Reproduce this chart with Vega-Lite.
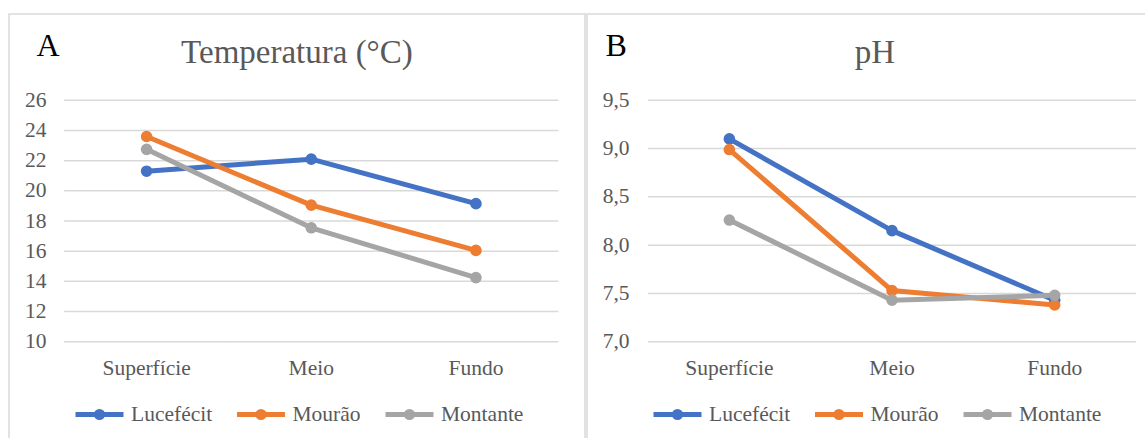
{
  "$schema": "https://vega.github.io/schema/vega-lite/v6.json",
  "background": "white",
  "padding": {"left": 8, "top": 13, "right": 0, "bottom": 0},
  "spacing": 0,
  "config": {
    "view": {"stroke": "#D9D9D9", "strokeWidth": 1.5},
    "font": "Liberation Serif",
    "axis": {"labelFont": "Liberation Serif", "titleFont": "Liberation Serif"},
    "legend": {"labelFont": "Liberation Serif"},
    "text": {"font": "Liberation Serif"}
  },
  "datasets": {
    "temp": [
      {"site": "Lucefécit", "cat": "Superfície", "value": 21.3},
      {"site": "Lucefécit", "cat": "Meio", "value": 22.1},
      {"site": "Lucefécit", "cat": "Fundo", "value": 19.15},
      {"site": "Mourão", "cat": "Superfície", "value": 23.6},
      {"site": "Mourão", "cat": "Meio", "value": 19.05},
      {"site": "Mourão", "cat": "Fundo", "value": 16.05},
      {"site": "Montante", "cat": "Superfície", "value": 22.75},
      {"site": "Montante", "cat": "Meio", "value": 17.55},
      {"site": "Montante", "cat": "Fundo", "value": 14.25}
    ],
    "ph": [
      {"site": "Lucefécit", "cat": "Superfície", "value": 9.1},
      {"site": "Lucefécit", "cat": "Meio", "value": 8.15},
      {"site": "Lucefécit", "cat": "Fundo", "value": 7.43},
      {"site": "Mourão", "cat": "Superfície", "value": 8.99},
      {"site": "Mourão", "cat": "Meio", "value": 7.53},
      {"site": "Mourão", "cat": "Fundo", "value": 7.38},
      {"site": "Montante", "cat": "Superfície", "value": 8.26},
      {"site": "Montante", "cat": "Meio", "value": 7.43},
      {"site": "Montante", "cat": "Fundo", "value": 7.48}
    ],
    "gridT": [
      {"value": 10, "cat": ["Superfície", "Meio", "Fundo"]},
      {"value": 12, "cat": ["Superfície", "Meio", "Fundo"]},
      {"value": 14, "cat": ["Superfície", "Meio", "Fundo"]},
      {"value": 16, "cat": ["Superfície", "Meio", "Fundo"]},
      {"value": 18, "cat": ["Superfície", "Meio", "Fundo"]},
      {"value": 20, "cat": ["Superfície", "Meio", "Fundo"]},
      {"value": 22, "cat": ["Superfície", "Meio", "Fundo"]},
      {"value": 24, "cat": ["Superfície", "Meio", "Fundo"]},
      {"value": 26, "cat": ["Superfície", "Meio", "Fundo"]}
    ],
    "gridP": [
      {"value": 7.0, "cat": ["Superfície", "Meio", "Fundo"]},
      {"value": 7.5, "cat": ["Superfície", "Meio", "Fundo"]},
      {"value": 8.0, "cat": ["Superfície", "Meio", "Fundo"]},
      {"value": 8.5, "cat": ["Superfície", "Meio", "Fundo"]},
      {"value": 9.0, "cat": ["Superfície", "Meio", "Fundo"]},
      {"value": 9.5, "cat": ["Superfície", "Meio", "Fundo"]}
    ],
    "titleT": [{"t": "Temperatura (°C)", "cat": "Meio", "value": 28.47}],
    "titleP": [{"t": "pH", "cat": "Meio", "value": 9.886}]
  },
  "resolve": {"legend": {"color": "independent"}},
  "hconcat": [
    {
      "width": 576,
      "height": 425,
      "encoding": {
        "x": {
          "field": "cat", "type": "nominal",
          "scale": {"type": "band", "domain": ["Superfície", "Meio", "Fundo"], "paddingInner": 0, "paddingOuter": 0.249, "align": 0.674},
          "axis": {"orient": "bottom", "offset": -97.3, "domain": false, "ticks": false, "tickSize": 0, "grid": false, "labelPadding": 32.3, "labelBaseline": "alphabetic", "labelAngle": 0, "labelFont": "Liberation Serif", "labelFontSize": 21.5, "labelColor": "#595959", "title": null}
        },
        "y": {
          "field": "value", "type": "quantitative",
          "scale": {"domain": [3.551, 31.72], "nice": false, "zero": false},
          "axis": {"orient": "left", "offset": -55.3, "values": [10, 12, 14, 16, 18, 20, 22, 24, 26], "domain": false, "ticks": false, "tickSize": 0, "grid": false, "labelPadding": 18.3, "labelBaseline": "middle", "labelFont": "Liberation Serif", "labelFontSize": 21.5, "labelColor": "#595959", "title": "A", "titleAngle": 0, "titleX": -28.3, "titleY": 41.5, "titleAlign": "left", "titleBaseline": "alphabetic", "titleFont": "Liberation Serif", "titleFontSize": 32, "titleFontWeight": "normal", "titleColor": "#000000"}
        }
      },
      "layer": [
        {
          "data": {"name": "gridT"},
          "transform": [{"flatten": ["cat"]}],
          "mark": {"type": "tick", "color": "#D9D9D9", "thickness": 1.5, "size": 165, "orient": "horizontal", "opacity": 1}
        },
        {
          "data": {"name": "titleT"},
          "mark": {"type": "text", "font": "Liberation Serif", "fontSize": 33, "color": "#595959", "baseline": "alphabetic", "align": "center", "dx": -14.3},
          "encoding": {
            "text": {"field": "t", "type": "nominal"}
          }
        },
        {
          "data": {"name": "temp"},
          "mark": {"type": "line", "strokeWidth": 5, "strokeCap": "round", "strokeJoin": "round"},
          "encoding": {
            "color": {
              "field": "site", "type": "nominal",
              "scale": {"domain": ["Lucefécit", "Mourão", "Montante"], "range": ["#4472C4", "#ED7D31", "#A5A5A5"]},
              "legend": {
                "orient": "none", "legendX": 64, "legendY": 374, "direction": "horizontal", "title": null, "gridAlign": "none",
                "symbolType": "M-1,0L1,0M0.13,0A0.13,0.13,0,1,1,-0.13,0A0.13,0.13,0,1,1,0.13,0Z",
                "symbolSize": 2304, "symbolStrokeWidth": 5,
                "labelFont": "Liberation Serif", "labelFontSize": 21.5, "labelColor": "#595959", "labelOffset": 5, "columnPadding": 13.5,
                "encode": {"symbols": {"update": {"fill": {"scale": "color", "field": "value"}, "stroke": {"scale": "color", "field": "value"}, "opacity": {"value": 1}}}}
              }
            }
          }
        },
        {
          "data": {"name": "temp"},
          "mark": {"type": "point", "filled": true, "size": 135, "opacity": 1},
          "encoding": {
            "color": {"field": "site", "type": "nominal", "legend": null}
          }
        }
      ]
    },
    {
      "width": 561,
      "height": 425,
      "encoding": {
        "x": {
          "field": "cat", "type": "nominal",
          "scale": {"type": "band", "domain": ["Superfície", "Meio", "Fundo"], "paddingInner": 0, "paddingOuter": 0.2244, "align": 0.836},
          "axis": {"orient": "bottom", "offset": -97.3, "domain": false, "ticks": false, "tickSize": 0, "grid": false, "labelPadding": 32.3, "labelBaseline": "alphabetic", "labelAngle": 0, "labelFont": "Liberation Serif", "labelFontSize": 21.5, "labelColor": "#595959", "title": null}
        },
        "y": {
          "field": "value", "type": "quantitative",
          "scale": {"domain": [5.9923, 10.3937], "nice": false, "zero": false},
          "axis": {"orient": "left", "offset": -61, "values": [7, 7.5, 8, 8.5, 9, 9.5], "labelExpr": "replace(format(datum.value, '.1f'), '.', ',')", "domain": false, "ticks": false, "tickSize": 0, "grid": false, "labelPadding": 19, "labelBaseline": "middle", "labelFont": "Liberation Serif", "labelFontSize": 21.5, "labelColor": "#595959", "title": "B", "titleAngle": 0, "titleX": -43, "titleY": 41, "titleAlign": "left", "titleBaseline": "alphabetic", "titleFont": "Liberation Serif", "titleFontSize": 32, "titleFontWeight": "normal", "titleColor": "#000000"}
        }
      },
      "layer": [
        {
          "data": {"name": "gridP"},
          "transform": [{"flatten": ["cat"]}],
          "mark": {"type": "tick", "color": "#D9D9D9", "thickness": 1.5, "size": 163, "orient": "horizontal", "opacity": 1}
        },
        {
          "data": {"name": "titleP"},
          "mark": {"type": "text", "font": "Liberation Serif", "fontSize": 33, "color": "#595959", "baseline": "alphabetic", "align": "center", "dx": -17},
          "encoding": {
            "text": {"field": "t", "type": "nominal"}
          }
        },
        {
          "data": {"name": "ph"},
          "mark": {"type": "line", "strokeWidth": 5, "strokeCap": "round", "strokeJoin": "round"},
          "encoding": {
            "color": {
              "field": "site", "type": "nominal",
              "scale": {"domain": ["Lucefécit", "Mourão", "Montante"], "range": ["#4472C4", "#ED7D31", "#A5A5A5"]},
              "legend": {
                "orient": "none", "legendX": 64, "legendY": 374, "direction": "horizontal", "title": null, "gridAlign": "none",
                "symbolType": "M-1,0L1,0M0.13,0A0.13,0.13,0,1,1,-0.13,0A0.13,0.13,0,1,1,0.13,0Z",
                "symbolSize": 2304, "symbolStrokeWidth": 5,
                "labelFont": "Liberation Serif", "labelFontSize": 21.5, "labelColor": "#595959", "labelOffset": 5, "columnPadding": 13.5,
                "encode": {"symbols": {"update": {"fill": {"scale": "color", "field": "value"}, "stroke": {"scale": "color", "field": "value"}, "opacity": {"value": 1}}}}
              }
            }
          }
        },
        {
          "data": {"name": "ph"},
          "mark": {"type": "point", "filled": true, "size": 135, "opacity": 1},
          "encoding": {
            "color": {"field": "site", "type": "nominal", "legend": null}
          }
        }
      ]
    }
  ]
}
